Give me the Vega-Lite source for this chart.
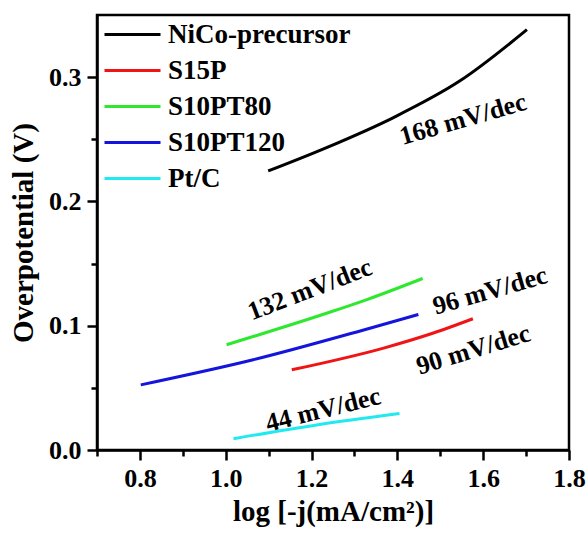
{
  "$schema": "https://vega.github.io/schema/vega-lite/v6.json",
  "width": 472,
  "height": 435,
  "autosize": {"type": "none"},
  "padding": {"left": 97, "top": 15, "right": 19, "bottom": 84},
  "background": "white",
  "config": {
    "view": {"stroke": "black", "strokeWidth": 2.5},
    "font": "Liberation Serif",
    "axis": {
      "grid": false,
      "domainColor": "black",
      "domainWidth": 2.5,
      "tickColor": "black",
      "tickWidth": 2.5,
      "labelColor": "black",
      "labelFont": "Liberation Serif",
      "labelFontSize": 26,
      "labelFontWeight": "bold",
      "titleColor": "black",
      "titleFont": "Liberation Serif",
      "titleFontSize": 29,
      "titleFontWeight": "bold",
      "labelOverlap": false,
      "labelFlush": false
    }
  },
  "datasets": {
    "curves": [
      {"sample": "NiCo-precursor", "logj": 1.099, "eta": 0.2245},
      {"sample": "NiCo-precursor", "logj": 1.235, "eta": 0.2433},
      {"sample": "NiCo-precursor", "logj": 1.391, "eta": 0.2675},
      {"sample": "NiCo-precursor", "logj": 1.546, "eta": 0.297},
      {"sample": "NiCo-precursor", "logj": 1.702, "eta": 0.3382},
      {"sample": "S15P", "logj": 1.154, "eta": 0.0645},
      {"sample": "S15P", "logj": 1.368, "eta": 0.082},
      {"sample": "S15P", "logj": 1.484, "eta": 0.0941},
      {"sample": "S15P", "logj": 1.576, "eta": 0.1056},
      {"sample": "S10PT80", "logj": 1.002, "eta": 0.0847},
      {"sample": "S10PT80", "logj": 1.235, "eta": 0.11},
      {"sample": "S10PT80", "logj": 1.329, "eta": 0.121},
      {"sample": "S10PT80", "logj": 1.459, "eta": 0.138},
      {"sample": "S10PT120", "logj": 0.802, "eta": 0.0524},
      {"sample": "S10PT120", "logj": 1.064, "eta": 0.0726},
      {"sample": "S10PT120", "logj": 1.336, "eta": 0.098},
      {"sample": "S10PT120", "logj": 1.449, "eta": 0.109},
      {"sample": "Pt/C", "logj": 1.018, "eta": 0.0091},
      {"sample": "Pt/C", "logj": 1.212, "eta": 0.0202},
      {"sample": "Pt/C", "logj": 1.405, "eta": 0.0293}
    ],
    "notes": [
      {"label": "168 mV/dec", "logj": 1.553, "eta": 0.266},
      {"label": "132 mV/dec", "logj": 1.196, "eta": 0.129},
      {"label": "96 mV/dec", "logj": 1.616, "eta": 0.128},
      {"label": "90 mV/dec", "logj": 1.577, "eta": 0.0806},
      {"label": "44 mV/dec", "logj": 1.227, "eta": 0.0323}
    ]
  },
  "encoding": {
    "x": {
      "field": "logj",
      "type": "quantitative",
      "scale": {"domain": [0.7, 1.8], "nice": false, "zero": false},
      "axis": {
        "title": "log [-j(mA/cm²)]",
        "titlePadding": 6,
        "values": [0.7, 0.8, 0.9, 1.0, 1.1, 1.2, 1.3, 1.4, 1.5, 1.6, 1.7, 1.8],
        "labelExpr": "round(datum.value*10)%2==0 ? format(datum.value,'.1f') : ''",
        "tickSize": {"condition": {"test": "round(datum.value*10)%2==0", "value": 10}, "value": 6},
        "labelPadding": 5
      }
    },
    "y": {
      "field": "eta",
      "type": "quantitative",
      "scale": {"domain": [0, 0.35], "nice": false, "zero": false},
      "axis": {
        "title": "Overpotential (V)",
        "titlePadding": 10,
        "values": [0, 0.05, 0.1, 0.15, 0.2, 0.25, 0.3],
        "labelExpr": "round(datum.value*100)%10==0 ? format(datum.value,'.1f') : ''",
        "tickSize": {"condition": {"test": "round(datum.value*100)%10==0", "value": 10}, "value": 6},
        "labelPadding": 6
      }
    }
  },
  "layer": [
    {
      "data": {"name": "curves"},
      "mark": {"type": "line", "strokeWidth": 3, "interpolate": "monotone"},
      "encoding": {
        "color": {
          "field": "sample",
          "type": "nominal",
          "scale": {
            "domain": ["NiCo-precursor", "S15P", "S10PT80", "S10PT120", "Pt/C"],
            "range": ["#000000", "#f01414", "#2ee82e", "#1414dc", "#20eaf0"]
          },
          "legend": {
            "title": null,
            "orient": "none",
            "legendX": 20,
            "legendY": 4,
            "padding": 0,
            "symbolType": "M-2,0H2",
            "symbolSize": 784,
            "symbolStrokeWidth": 3,
            "labelFont": "Liberation Serif",
            "labelFontSize": 27,
            "labelFontWeight": "bold",
            "labelColor": "black",
            "labelLimit": 0,
            "labelOffset": 20,
            "rowPadding": 7
          }
        },
        "order": {"field": "logj"}
      }
    },
    {
      "data": {"name": "notes"},
      "transform": [{"filter": "datum.label == '168 mV/dec'"}],
      "mark": {"type": "text", "angle": -16, "font": "Liberation Serif", "fontSize": 26, "fontWeight": "bold", "color": "black", "align": "center", "baseline": "middle"},
      "encoding": {"text": {"field": "label"}}
    },
    {
      "data": {"name": "notes"},
      "transform": [{"filter": "datum.label == '132 mV/dec'"}],
      "mark": {"type": "text", "angle": -21, "font": "Liberation Serif", "fontSize": 26, "fontWeight": "bold", "color": "black", "align": "center", "baseline": "middle"},
      "encoding": {"text": {"field": "label"}}
    },
    {
      "data": {"name": "notes"},
      "transform": [{"filter": "datum.label == '96 mV/dec'"}],
      "mark": {"type": "text", "angle": -16, "font": "Liberation Serif", "fontSize": 26, "fontWeight": "bold", "color": "black", "align": "center", "baseline": "middle"},
      "encoding": {"text": {"field": "label"}}
    },
    {
      "data": {"name": "notes"},
      "transform": [{"filter": "datum.label == '90 mV/dec'"}],
      "mark": {"type": "text", "angle": -17, "font": "Liberation Serif", "fontSize": 26, "fontWeight": "bold", "color": "black", "align": "center", "baseline": "middle"},
      "encoding": {"text": {"field": "label"}}
    },
    {
      "data": {"name": "notes"},
      "transform": [{"filter": "datum.label == '44 mV/dec'"}],
      "mark": {"type": "text", "angle": -14, "font": "Liberation Serif", "fontSize": 26, "fontWeight": "bold", "color": "black", "align": "center", "baseline": "middle"},
      "encoding": {"text": {"field": "label"}}
    }
  ]
}
